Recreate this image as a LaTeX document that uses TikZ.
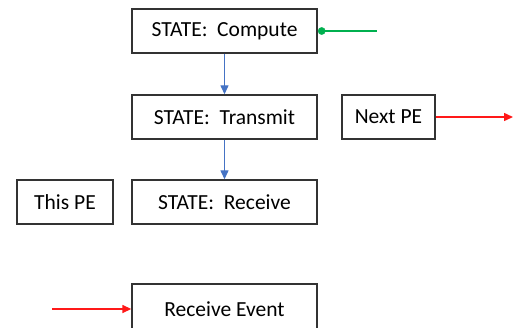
\documentclass[tikz,border=0pt]{standalone}
\usepackage{fontspec}
\setmainfont{Carlito}
\usepackage{tikz}
\usetikzlibrary{arrows.meta, positioning}
\definecolor{boxgray}{rgb}{0.2, 0.2, 0.2}
\definecolor{flowblue}{rgb}{0.27, 0.45, 0.77}
\definecolor{eventred}{rgb}{1, 0.1, 0.1}
\definecolor{tickgreen}{rgb}{0, 0.69, 0.31}
\tikzset{
	statebox/.style={draw=boxgray, line width=1.4pt, minimum height=44pt, inner sep=0pt, font=\fontsize{21.5}{25}\selectfont},
	flow/.style={flowblue, line width=1.3pt, -{Triangle[length=9pt, width=8pt]}},
	event/.style={eventred, line width=1.5pt, -{Triangle[length=9pt, width=8pt]}}
}

\begin{document}
\begin{tikzpicture}[x=1pt, y=-1pt]
		\useasboundingbox (0,0) rectangle (525,327);
		\clip (0,0) rectangle (525,327);
		\node [statebox, minimum width=185pt] (compute) at (224.5,31) {STATE:\ \ Compute};
		\node [statebox, minimum width=185pt] (transmit) at (224.5,117) {STATE:\ \ Transmit};
		\node [statebox, minimum width=185pt] (receive) at (224.5,202) {STATE:\ \ Receive};
		\node [statebox, minimum width=93pt] (nextpe) at (388.5,117) {Next PE};
		\node [statebox, minimum width=96pt] (thispe) at (65,202) {This PE};
		\node [statebox, minimum width=185pt, minimum height=50pt] (rcvevent) at (224.5,309) {Receive Event};
		\coordinate (tickend) at (377,31);
		\coordinate (outend) at (513,117);
		\coordinate (instart) at (52,309);
		\draw [flow] (compute) -- (transmit);
		\draw [flow] (transmit) -- (receive);
		\draw [tickgreen, line width=1.5pt] (compute.east) ++(4,0) -- (tickend);
		\draw [tickgreen, fill=tickgreen] (compute.east) ++(4,0) circle (3.6pt);
		\draw [event] (nextpe) -- (outend);
		\draw [event] (instart) -- (rcvevent);
	\end{tikzpicture}
\end{document}
